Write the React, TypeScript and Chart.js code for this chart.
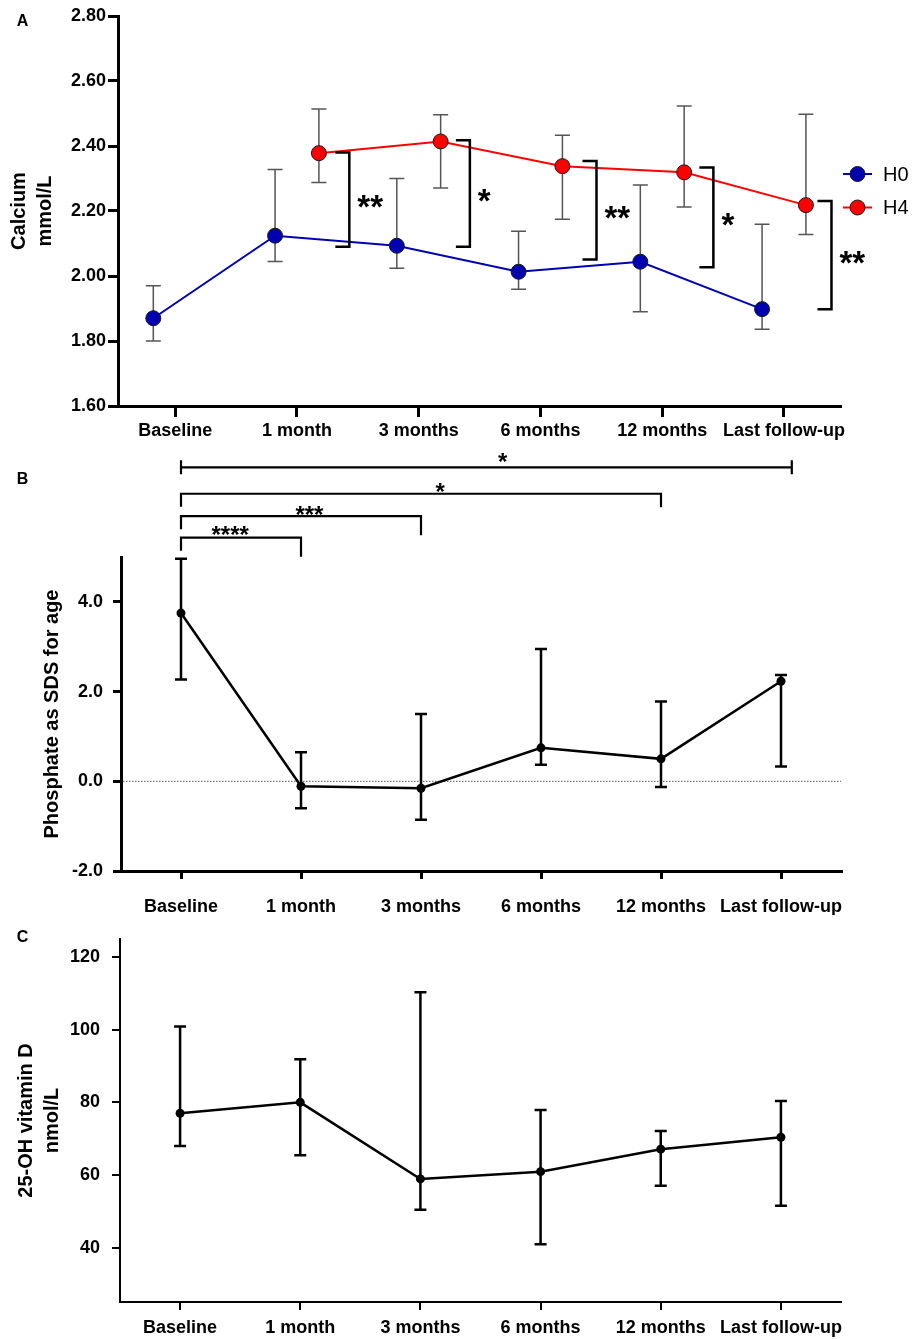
import React, { useEffect, useRef } from 'react';
import { Chart, registerables } from 'chart.js';

Chart.register(...registerables);

const FONT = '"Liberation Sans", Arial, Helvetica, sans-serif';
Chart.defaults.font.family = FONT;
Chart.defaults.color = '#000';

// ---------- shared categories ----------
const CATEGORIES = ['Baseline', '1 month', '3 months', '6 months', '12 months', 'Last follow-up'];

// ---------- Panel A: calcium ----------
const SERIES_NAMES_A = ['H0', 'H4'];
const CALCIUM_H0 = [1.87, 2.124, 2.093, 2.013, 2.044, 1.898];
const CALCIUM_H0_LOW = [1.8, 2.045, 2.024, 1.959, 1.89, 1.836];
const CALCIUM_H0_HIGH = [1.97, 2.328, 2.3, 2.138, 2.28, 2.159];
const CALCIUM_H4 = [null, 2.378, 2.414, 2.338, 2.319, 2.218];
const CALCIUM_H4_LOW = [null, 2.288, 2.271, 2.175, 2.212, 2.128];
const CALCIUM_H4_HIGH = [null, 2.514, 2.496, 2.433, 2.523, 2.498];
const Y_TICKS_A = [1.6, 1.8, 2.0, 2.2, 2.4, 2.6, 2.8];
const SIG_A_X = [1.43, 2.42, 3.46, 4.42, 5.39];
const SIG_A_TOP = [2.38, 2.418, 2.354, 2.334, 2.231];
const SIG_A_BOTTOM = [2.09, 2.09, 2.051, 2.027, 1.898];
const SIG_A_LABEL = ['**', '*', '**', '*', '**'];

// ---------- Panel B: phosphate ----------
const PHOSPHATE = [3.75, -0.11, -0.156, 0.745, 0.5, 2.23];
const PHOSPHATE_LOW = [2.27, -0.6, -0.855, 0.37, -0.13, 0.33];
const PHOSPHATE_HIGH = [4.96, 0.65, 1.5, 2.95, 1.78, 2.37];
const Y_TICKS_B = [-2, 0, 2, 4];
const SIG_B_FROM = [0, 0, 0, 0];
const SIG_B_TO = [1, 2, 4, 5.09];
const SIG_B_LEVEL = [5.43, 5.91, 6.41, 7.0];
const SIG_B_LABEL = ['****', '***', '*', '*'];
const SIG_B_LABEL_X = [0.41, 1.07, 2.16, 2.68];

// ---------- Panel C: 25-OH vitamin D ----------
const VITAMIN_D = [77.0, 80.0, 58.9, 60.9, 67.1, 70.4];
const VITAMIN_D_LOW = [68.0, 65.4, 50.4, 40.9, 57.0, 51.5];
const VITAMIN_D_HIGH = [100.9, 91.9, 110.3, 77.9, 72.1, 80.4];
const Y_TICKS_C = [40, 60, 80, 100, 120];

// ---------- styles ----------
const BLUE = '#0000b0';
const RED = '#ff0000';
const DODGE_A = 0.18;

function makeSeries(values: (number | null)[], lows: (number | null)[], highs: (number | null)[], offset: number) {
  const out: any[] = [];
  values.forEach((v, i) => {
    if (v == null) return;
    out.push({ x: i + offset, y: v, lo: lows[i], hi: highs[i] });
  });
  return out;
}

const errorBarPlugin = {
  id: 'errorBars',
  beforeDatasetsDraw(chart: any) {
    const { ctx } = chart;
    const xs = chart.scales.x;
    const ys = chart.scales.y;
    chart.data.datasets.forEach((ds: any) => {
      const st = ds.errorBar;
      if (!st) return;
      ctx.save();
      ctx.strokeStyle = st.color;
      ctx.lineWidth = st.width;
      ctx.lineCap = 'butt';
      ds.data.forEach((p: any) => {
        const px = xs.getPixelForValue(p.x);
        const pl = ys.getPixelForValue(p.lo);
        const ph = ys.getPixelForValue(p.hi);
        ctx.beginPath();
        ctx.moveTo(px, ph);
        ctx.lineTo(px, pl);
        ctx.moveTo(px - st.cap, ph);
        ctx.lineTo(px + st.cap, ph);
        ctx.moveTo(px - st.cap, pl);
        ctx.lineTo(px + st.cap, pl);
        ctx.stroke();
      });
      ctx.restore();
    });
  },
};

function panelLetter(letter: string, x: number, y: number) {
  return {
    id: 'panelLetter' + letter,
    afterDraw(chart: any) {
      const { ctx } = chart;
      ctx.save();
      ctx.font = `bold 16px ${FONT}`;
      ctx.fillStyle = '#000';
      ctx.textAlign = 'center';
      ctx.textBaseline = 'middle';
      ctx.fillText(letter, x, y);
      ctx.restore();
    },
  };
}

function drawStar(ctx: any, text: string, x: number, glyphCenterY: number, size: number, bold: boolean, align: string) {
  ctx.save();
  ctx.font = `${bold ? 'bold ' : ''}${size}px ${FONT}`;
  ctx.fillStyle = '#000';
  ctx.textAlign = align;
  ctx.textBaseline = 'alphabetic';
  ctx.fillText(text, x, glyphCenterY + size * 0.56);
  ctx.restore();
}

const sigPluginA = {
  id: 'sigA',
  afterDatasetsDraw(chart: any) {
    const { ctx } = chart;
    const xs = chart.scales.x;
    const ys = chart.scales.y;
    ctx.save();
    ctx.strokeStyle = '#000';
    ctx.lineWidth = 2.5;
    ctx.lineJoin = 'miter';
    SIG_A_X.forEach((bx, i) => {
      const px = xs.getPixelForValue(bx);
      const pt = ys.getPixelForValue(SIG_A_TOP[i]);
      const pb = ys.getPixelForValue(SIG_A_BOTTOM[i]);
      ctx.beginPath();
      ctx.moveTo(px - 14, pt);
      ctx.lineTo(px, pt);
      ctx.lineTo(px, pb);
      ctx.lineTo(px - 14, pb);
      ctx.stroke();
      drawStar(ctx, SIG_A_LABEL[i], px + 8, (pt + pb) / 2, 33, true, 'left');
    });
    ctx.restore();
  },
};

const legendPluginA = {
  id: 'legendA',
  afterDraw(chart: any) {
    const { ctx } = chart;
    const colors = [BLUE, RED];
    const rows = [174, 207.5];
    ctx.save();
    SERIES_NAMES_A.forEach((name, i) => {
      const y = rows[i];
      ctx.strokeStyle = colors[i];
      ctx.lineWidth = 2;
      ctx.beginPath();
      ctx.moveTo(843, y);
      ctx.lineTo(872, y);
      ctx.stroke();
      ctx.beginPath();
      ctx.arc(857.5, y, 7.5, 0, Math.PI * 2);
      ctx.fillStyle = colors[i];
      ctx.fill();
      ctx.lineWidth = 1;
      ctx.strokeStyle = '#1a1a1a';
      ctx.stroke();
      ctx.font = `20px ${FONT}`;
      ctx.fillStyle = '#000';
      ctx.textAlign = 'left';
      ctx.textBaseline = 'middle';
      ctx.fillText(name, 883, y + 1);
    });
    ctx.restore();
  },
};

const sigPluginB = {
  id: 'sigB',
  afterDraw(chart: any) {
    const { ctx } = chart;
    const xs = chart.scales.x;
    const ys = chart.scales.y;
    const rightLeg = [19, 19, 13.5, 0];
    const starOffset = [8, 7, 7.5, 10.5];
    ctx.save();
    ctx.strokeStyle = '#000';
    ctx.lineWidth = 2.2;
    ctx.lineJoin = 'miter';
    SIG_B_LEVEL.forEach((lvl, i) => {
      const x1 = xs.getPixelForValue(SIG_B_FROM[i]);
      const x2 = xs.getPixelForValue(SIG_B_TO[i]);
      const py = ys.getPixelForValue(lvl);
      ctx.beginPath();
      if (rightLeg[i] === 0) {
        ctx.moveTo(x1, py);
        ctx.lineTo(x2, py);
        ctx.moveTo(x1, py - 7);
        ctx.lineTo(x1, py + 7);
        ctx.moveTo(x2, py - 7);
        ctx.lineTo(x2, py + 7);
      } else {
        ctx.moveTo(x1, py + 13);
        ctx.lineTo(x1, py);
        ctx.lineTo(x2, py);
        ctx.lineTo(x2, py + rightLeg[i]);
      }
      ctx.stroke();
      drawStar(ctx, SIG_B_LABEL[i], xs.getPixelForValue(SIG_B_LABEL_X[i]), py - starOffset[i], 24, true, 'center');
    });
    ctx.restore();
  },
};

const zeroLinePlugin = {
  id: 'zeroLine',
  beforeDatasetsDraw(chart: any) {
    const { ctx, chartArea } = chart;
    const y0 = chart.scales.y.getPixelForValue(0);
    ctx.save();
    ctx.strokeStyle = '#777';
    ctx.lineWidth = 1.3;
    ctx.setLineDash([1.5, 1.5]);
    ctx.beginPath();
    ctx.moveTo(chartArea.left + 2, y0);
    ctx.lineTo(chartArea.right, y0);
    ctx.stroke();
    ctx.restore();
  },
};

function xScale(o: { min: number; max: number; height: number; tickLength: number; padding: number; width: number }) {
  return {
    type: 'linear',
    min: o.min,
    max: o.max,
    afterBuildTicks: (s: any) => {
      s.ticks = CATEGORIES.map((_, i) => ({ value: i }));
    },
    afterFit: (s: any) => {
      s.height = o.height;
    },
    ticks: {
      autoSkip: false,
      maxRotation: 0,
      minRotation: 0,
      padding: o.padding,
      color: '#000',
      font: { size: 18, weight: 'bold' },
      callback: (v: any) => CATEGORIES[Math.round(Number(v))] ?? '',
    },
    grid: {
      drawOnChartArea: false,
      drawTicks: true,
      tickLength: o.tickLength,
      tickWidth: o.width,
      tickColor: '#000',
      color: '#000',
      lineWidth: o.width,
    },
    border: { display: true, color: '#000', width: o.width },
  };
}

function yScale(o: {
  min: number; max: number; ticks: number[]; decimals: number; width: number; tickLength: number;
  padding: number; axisWidth: number; title: string | string[]; titlePad: number; lineHeight: number;
}) {
  return {
    type: 'linear',
    min: o.min,
    max: o.max,
    afterBuildTicks: (s: any) => {
      s.ticks = o.ticks.map((v) => ({ value: v }));
    },
    afterFit: (s: any) => {
      s.width = o.width;
    },
    ticks: {
      padding: o.padding,
      color: '#000',
      font: { size: 18, weight: 'bold' },
      callback: (v: any) => Number(v).toFixed(o.decimals),
    },
    grid: {
      drawOnChartArea: false,
      drawTicks: true,
      tickLength: o.tickLength,
      tickWidth: o.axisWidth,
      tickColor: '#000',
      color: '#000',
      lineWidth: o.axisWidth,
    },
    border: { display: true, color: '#000', width: o.axisWidth },
    title: {
      display: true,
      text: o.title,
      color: '#000',
      font: { size: 20, weight: 'bold', lineHeight: o.lineHeight },
      padding: { top: o.titlePad, bottom: 0 },
    },
  };
}

const commonOptions = {
  animation: false,
  responsive: true,
  maintainAspectRatio: false,
  events: [],
  plugins: { legend: { display: false }, tooltip: { enabled: false } },
};

function buildA(canvas: HTMLCanvasElement) {
  return new Chart(canvas, {
    type: 'scatter',
    data: {
      datasets: [
        {
          label: SERIES_NAMES_A[0],
          data: makeSeries(CALCIUM_H0, CALCIUM_H0_LOW, CALCIUM_H0_HIGH, -DODGE_A),
          showLine: true,
          borderColor: BLUE,
          backgroundColor: BLUE,
          borderWidth: 2,
          pointRadius: 7.5,
          pointHoverRadius: 7.5,
          pointBackgroundColor: BLUE,
          pointBorderColor: '#1a1a1a',
          pointBorderWidth: 1,
          clip: false,
          errorBar: { color: '#555', width: 1.5, cap: 7.5 },
        },
        {
          label: SERIES_NAMES_A[1],
          data: makeSeries(CALCIUM_H4, CALCIUM_H4_LOW, CALCIUM_H4_HIGH, DODGE_A),
          showLine: true,
          borderColor: RED,
          backgroundColor: RED,
          borderWidth: 2,
          pointRadius: 7.5,
          pointHoverRadius: 7.5,
          pointBackgroundColor: RED,
          pointBorderColor: '#1a1a1a',
          pointBorderWidth: 1,
          clip: false,
          errorBar: { color: '#555', width: 1.5, cap: 7.5 },
        },
      ] as any,
    },
    options: {
      ...commonOptions,
      layout: { padding: { left: 0, top: 16, right: 72, bottom: 0 } },
      scales: {
        x: xScale({ min: -0.47, max: 5.46, height: 39, tickLength: 11, padding: 3, width: 3 }),
        y: yScale({
          min: 1.6, max: 2.8, ticks: Y_TICKS_A, decimals: 2, width: 118, tickLength: 10, padding: 2,
          axisWidth: 3, title: ['Calcium', 'mmol/L'], titlePad: 5.7, lineHeight: 1.33,
        }),
      },
    } as any,
    plugins: [errorBarPlugin, sigPluginA, legendPluginA, panelLetter('A', 22.5, 22)],
  });
}

function singleSeries(values: number[], lows: number[], highs: number[]) {
  return {
    label: 'mean',
    data: makeSeries(values, lows, highs, 0),
    showLine: true,
    borderColor: '#000',
    backgroundColor: '#000',
    borderWidth: 2.5,
    pointRadius: 4.5,
    pointHoverRadius: 4.5,
    pointBackgroundColor: '#000',
    pointBorderWidth: 0,
    clip: false,
    errorBar: { color: '#000', width: 2.5, cap: 6 },
  };
}

function buildB(canvas: HTMLCanvasElement) {
  return new Chart(canvas, {
    type: 'scatter',
    data: { datasets: [singleSeries(PHOSPHATE, PHOSPHATE_LOW, PHOSPHATE_HIGH)] as any },
    options: {
      ...commonOptions,
      layout: { padding: { left: 0, top: 112, right: 71, bottom: 0 } },
      scales: {
        x: xScale({ min: -0.5, max: 5.5, height: 44, tickLength: 8, padding: 17, width: 3 }),
        y: yScale({
          min: -2, max: 5, ticks: Y_TICKS_B, decimals: 1, width: 121, tickLength: 8, padding: 10,
          axisWidth: 3, title: 'Phosphate as SDS for age', titlePad: 40, lineHeight: 1.2,
        }),
      },
    } as any,
    plugins: [zeroLinePlugin, errorBarPlugin, sigPluginB, panelLetter('B', 22.5, 35)],
  });
}

function buildC(canvas: HTMLCanvasElement) {
  return new Chart(canvas, {
    type: 'scatter',
    data: { datasets: [singleSeries(VITAMIN_D, VITAMIN_D_LOW, VITAMIN_D_HIGH)] as any },
    options: {
      ...commonOptions,
      layout: { padding: { left: 0, top: 24, right: 71, bottom: 0 } },
      scales: {
        x: xScale({ min: -0.5, max: 5.5, height: 37, tickLength: 8, padding: 7, width: 2 }),
        y: yScale({
          min: 25, max: 125, ticks: Y_TICKS_C, decimals: 0, width: 120, tickLength: 8, padding: 12,
          axisWidth: 2, title: ['25-OH vitamin D', 'nmol/L'], titlePad: 12.7, lineHeight: 1.33,
        }),
      },
    } as any,
    plugins: [errorBarPlugin, panelLetter('C', 22.5, 23)],
  });
}

function Panel({ top, height, build }: { top: number; height: number; build: (c: HTMLCanvasElement) => Chart }) {
  const ref = useRef<HTMLCanvasElement>(null);
  useEffect(() => {
    if (!ref.current) return;
    const chart = build(ref.current);
    return () => chart.destroy();
  }, [build]);
  return (
    <div style={{ position: 'absolute', left: 0, top, width: 912, height }}>
      <canvas ref={ref} />
    </div>
  );
}

export default function App() {
  return (
    <div style={{ position: 'absolute', left: 0, top: 0, width: 912, height: 1339, background: '#fff' }}>
      <Panel top={0} height={445} build={buildA} />
      <Panel top={445} height={470} build={buildB} />
      <Panel top={915} height={424} build={buildC} />
    </div>
  );
}
